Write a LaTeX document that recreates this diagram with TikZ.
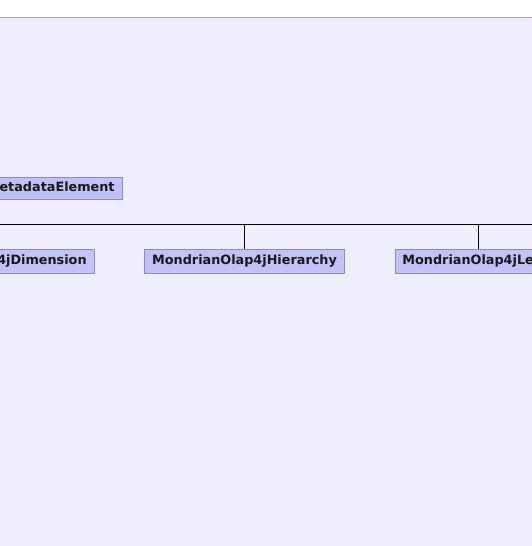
\documentclass[tikz,border=0pt]{standalone}
\usepackage{fontspec}
\setmainfont{DejaVu Sans}
\definecolor{bgc}{HTML}{EEEEFC}
\definecolor{boxfill}{HTML}{C2C2F8}
\definecolor{boxline}{HTML}{8A8AC8}
\definecolor{topline}{HTML}{A0A0AC}
\begin{document}
\begin{tikzpicture}[x=1pt,y=-1pt,
  cls/.style={draw=boxline,fill=boxfill,line width=0.8pt,minimum height=24pt,inner xsep=7.5pt,inner ysep=0pt,
    font=\fontsize{12.8}{15}\selectfont\bfseries,text=black!90},
  conn/.style={draw=black,line width=0.8pt}]
\useasboundingbox (0,0) rectangle (532,546);
\clip (0,0) rectangle (532,546);
\fill[white] (0,0) rectangle (532,17);
\fill[bgc] (0,17) rectangle (532,546);
\draw[topline,line width=1pt] (0,17) -- (532,17);
\node[cls,anchor=east,minimum height=22pt] (meta) at (122.5,188.3) {MondrianOlap4jMetadataElement};
\node[cls,anchor=east] (dim) at (94.5,261.3) {MondrianOlap4jDimension};
\node[cls] (hier) at (244.5,261.3) {MondrianOlap4jHierarchy};
\node[cls,anchor=west] (lev) at (394.5,261.3) {MondrianOlap4jLevel};
\coordinate (busL) at (0,224.5);
\coordinate (busR) at (532,224.5);
\draw[conn] (busL) -- (busR);
\draw[conn] (hier.north) -- (hier.north |- busL);
\draw[conn] (lev.north -| 478.7,0) -- (478.7,224.5);
\end{tikzpicture}
\end{document}
